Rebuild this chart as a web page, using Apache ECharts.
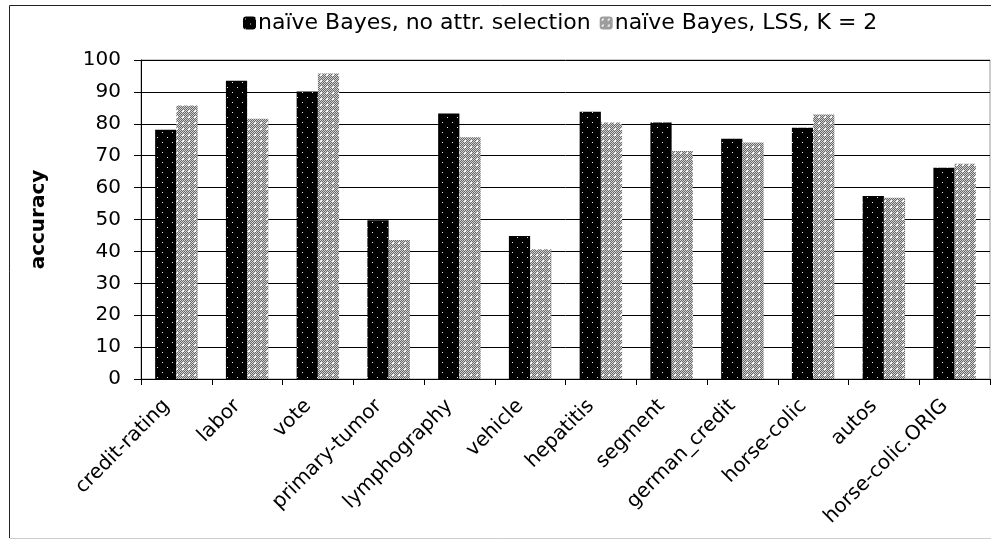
<!DOCTYPE html>
<html>
<head>
<meta charset="utf-8">
<script src="https://cdn.jsdelivr.net/npm/echarts@6/dist/echarts.min.js"></script>
<style>
  html, body { margin: 0; padding: 0; background: #fff; }
  #chart { width: 991px; height: 540px; }
</style>
</head>
<body>
<div id="chart"></div>
<script>
const categories = ['credit-rating', 'labor', 'vote', 'primary-tumor', 'lymphography', 'vehicle',
  'hepatitis', 'segment', 'german_credit', 'horse-colic', 'autos', 'horse-colic.ORIG'];
const seriesNames = ['naïve Bayes, no attr. selection', 'naïve Bayes, LSS, K = 2'];
const noSelection = [78.1, 93.5, 90.1, 49.8, 83.2, 44.8, 83.8, 80.4, 75.3, 78.8, 57.4, 66.2];
const lssK2 = [85.7, 81.6, 95.8, 43.6, 75.8, 40.7, 80.4, 71.5, 74.1, 82.9, 56.8, 67.5];
const yTicks = [0, 10, 20, 30, 40, 50, 60, 70, 80, 90, 100];

// black fill with sparse white dots
function dotPattern() {
  const c = document.createElement('canvas');
  c.width = 10; c.height = 10;
  const g = c.getContext('2d');
  g.fillStyle = '#000';
  g.fillRect(0, 0, 10, 10);
  g.fillStyle = '#e8e8e8';
  g.fillRect(2, 2, 1, 1);
  g.fillRect(7, 7, 1, 1);
  return c;
}

// fine gray checker with little white crosses
function checkPattern() {
  const c = document.createElement('canvas');
  c.width = 6; c.height = 6;
  const g = c.getContext('2d');
  for (let y = 0; y < 6; y++) {
    for (let x = 0; x < 6; x++) {
      g.fillStyle = (x + y) % 2 ? '#6a6a6a' : '#d0d0d0';
      g.fillRect(x, y, 1, 1);
    }
  }
  g.fillStyle = '#fff';
  g.fillRect(3, 3, 1, 1);
  g.fillRect(2, 3, 1, 1);
  g.fillRect(3, 2, 1, 1);
  return c;
}

const font = 'DejaVu Sans';
const chart = echarts.init(document.getElementById('chart'));

chart.setOption({
  animation: false,
  textStyle: { fontFamily: font },
  legend: {
    top: 7,
    left: 238,
    itemWidth: 13,
    itemHeight: 13,
    itemGap: 9,
    textStyle: { fontSize: 22, color: '#000', fontFamily: font, padding: [0, 0, 0, -3] },
    data: seriesNames
  },
  grid: {
    left: 141,
    right: 1,
    top: 60,
    bottom: 161,
    show: true,
    borderColor: '#999',
    borderWidth: 1
  },
  xAxis: {
    type: 'category',
    data: categories,
    axisLine: { lineStyle: { color: '#000', width: 1 } },
    axisTick: { show: true, length: 6, lineStyle: { color: '#000' } },
    axisLabel: {
      rotate: 45, fontSize: 20, color: '#000', fontFamily: font,
      margin: 14, interval: 0, padding: [0, 14, 0, 0]
    },
    splitLine: { show: false }
  },
  yAxis: {
    type: 'value',
    min: yTicks[0],
    max: yTicks[yTicks.length - 1],
    interval: 10,
    name: 'accuracy',
    nameLocation: 'middle',
    nameGap: 92,
    nameRotate: 90,
    nameTextStyle: { fontSize: 20, fontWeight: 'bold', color: '#000', fontFamily: font },
    axisLine: { show: true, lineStyle: { color: '#000' } },
    axisTick: { show: true, length: 7, lineStyle: { color: '#000' } },
    axisLabel: { fontSize: 20, color: '#000', fontFamily: font, margin: 20 },
    splitLine: { show: true, lineStyle: { color: '#000', width: 1 } }
  },
  series: [
    {
      name: seriesNames[0],
      type: 'bar',
      data: noSelection,
      barGap: '0%',
      barCategoryGap: '40%',
      itemStyle: { color: { image: dotPattern(), repeat: 'repeat' } }
    },
    {
      name: seriesNames[1],
      type: 'bar',
      data: lssK2,
      barGap: '0%',
      barCategoryGap: '40%',
      itemStyle: { color: { image: checkPattern(), repeat: 'repeat' } }
    }
  ],
  graphic: [
    {
      type: 'polyline',
      silent: true,
      shape: { points: [[9.5, 538], [9.5, 5.5], [991, 5.5]] },
      style: { stroke: '#222', lineWidth: 1, fill: null }
    },
    {
      type: 'line',
      silent: true,
      shape: { x1: 9.5, y1: 538.5, x2: 991, y2: 538.5 },
      style: { stroke: '#ccc', lineWidth: 1 }
    }
  ]
});
</script>
</body>
</html>
